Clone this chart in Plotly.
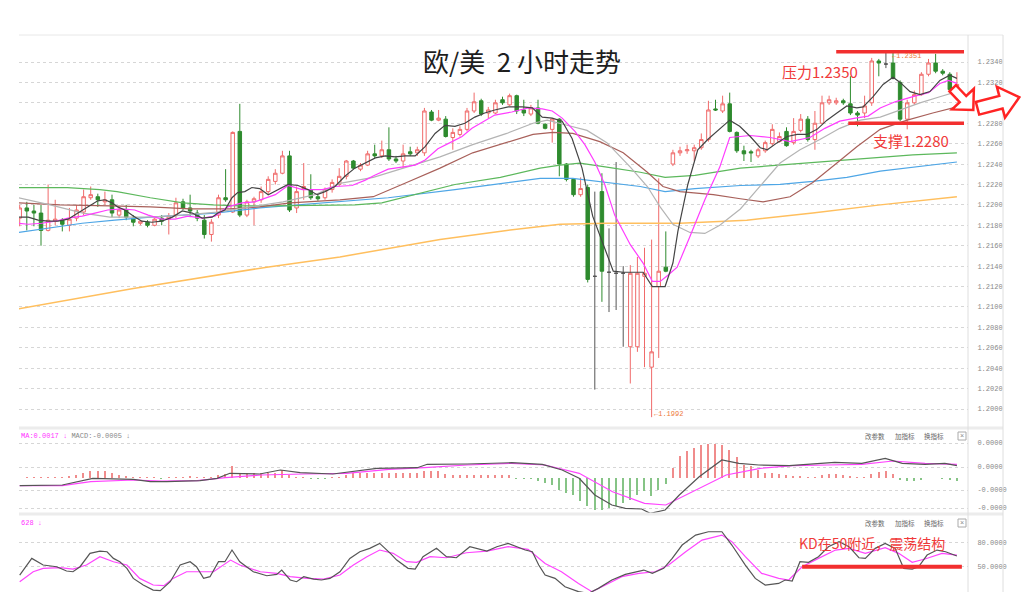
import math
import plotly.graph_objects as go

# ---------------- data ----------------
opens = [1.2187,1.2197,1.2194,1.2192,1.2175,1.2184,1.2185,1.2180,1.2187,1.2193,
         1.2207,1.2208,1.2203,1.2205,1.2190,1.2195,1.2187,1.2182,1.2183,1.2180,
         1.2187,1.2186,1.2190,1.2203,1.2197,1.2192,1.2185,1.2171,1.2190,1.2207,
         1.2193,1.2272,1.2190,1.2203,1.2205,1.2213,1.2223,1.2231,1.2248,1.2197,
         1.2216,1.2215,1.2208,1.2207,1.2215,1.2220,1.2228,1.2243,1.2235,1.2239,
         1.2250,1.2248,1.2254,1.2245,1.2243,1.2252,1.2251,1.2251,1.2291,1.2283,
         1.2284,1.2266,1.2269,1.2274,1.2292,1.2302,1.2290,1.2290,1.2303,1.2298,
         1.2307,1.2293,1.2289,1.2295,1.2279,1.2274,1.2284,1.2240,1.2225,1.2210,
         1.2217,1.2130,1.2213,1.2134,1.2133,1.2133,1.2061,1.2061,1.2130,1.2041,
         1.2120,1.2139,1.2240,1.2251,1.2253,1.2253,1.2256,1.2264,1.2294,1.2292,
         1.2299,1.2271,1.2253,1.2252,1.2248,1.2253,1.2260,1.2262,1.2272,1.2261,
         1.2273,1.2284,1.2264,1.2280,1.2300,1.2300,1.2302,1.2299,1.2290,1.2290,
         1.2300,1.2341,1.2338,1.2339,1.2320,1.2284,1.2300,1.2308,1.2328,1.2339,
         1.2331,1.2328,1.2314]
highs = [1.2200,1.2203,1.2200,1.2200,1.2220,1.2205,1.2187,1.2197,1.2200,1.2215,
         1.2218,1.2211,1.2213,1.2210,1.2198,1.2200,1.2190,1.2185,1.2185,1.2187,
         1.2190,1.2192,1.2207,1.2206,1.2210,1.2195,1.2190,1.2186,1.2210,1.2235,
         1.2272,1.2299,1.2205,1.2208,1.2218,1.2228,1.2235,1.2253,1.2253,1.2218,
         1.2241,1.2230,1.2210,1.2217,1.2225,1.2236,1.2244,1.2244,1.2241,1.2253,
         1.2259,1.2263,1.2276,1.2248,1.2259,1.2257,1.2257,1.2295,1.2293,1.2293,
         1.2287,1.2275,1.2277,1.2295,1.2310,1.2304,1.2296,1.2303,1.2306,1.2309,
         1.2308,1.2303,1.2298,1.2303,1.2280,1.2285,1.2285,1.2241,1.2226,1.2227,
         1.2220,1.2213,1.2231,1.2177,1.2242,1.2140,1.2141,1.2149,1.2158,1.2166,
         1.2226,1.2174,1.2254,1.2257,1.2259,1.2259,1.2270,1.2302,1.2303,1.2307,
         1.2310,1.2272,1.2258,1.2254,1.2256,1.2263,1.2279,1.2271,1.2276,1.2285,
         1.2289,1.2287,1.2292,1.2307,1.2307,1.2305,1.2304,1.2326,1.2292,1.2307,
         1.2344,1.2343,1.2351,1.2349,1.2322,1.2303,1.2312,1.2330,1.2343,1.2348,
         1.2333,1.2330,1.2330]
lows = [1.2179,1.2175,1.2179,1.2160,1.2174,1.2180,1.2174,1.2174,1.2184,1.2190,
        1.2205,1.2198,1.2200,1.2188,1.2187,1.2185,1.2179,1.2180,1.2178,1.2179,
        1.2180,1.2171,1.2187,1.2195,1.2188,1.2184,1.2167,1.2164,1.2187,1.2203,
        1.2192,1.2188,1.2188,1.2180,1.2202,1.2210,1.2220,1.2230,1.2193,1.2192,
        1.2205,1.2205,1.2204,1.2205,1.2212,1.2218,1.2225,1.2235,1.2233,1.2238,
        1.2246,1.2246,1.2243,1.2241,1.2236,1.2248,1.2248,1.2248,1.2282,1.2282,
        1.2266,1.2254,1.2267,1.2272,1.2290,1.2287,1.2285,1.2289,1.2298,1.2297,
        1.2289,1.2287,1.2287,1.2279,1.2274,1.2261,1.2228,1.2223,1.2208,1.2208,
        1.2124,1.2019,1.2105,1.2095,1.2097,1.2061,1.2025,1.2056,1.2041,1.1992,
        1.2050,1.2134,1.2238,1.2248,1.2250,1.2243,1.2254,1.2262,1.2292,1.2290,
        1.2271,1.2251,1.2243,1.2242,1.2246,1.2251,1.2258,1.2261,1.2257,1.2259,
        1.2271,1.2262,1.2254,1.2279,1.2298,1.2298,1.2298,1.2288,1.2277,1.2285,
        1.2297,1.2326,1.2334,1.2323,1.2282,1.2274,1.2298,1.2307,1.2326,1.2329,
        1.2327,1.2312,1.2308]
closes = [1.2197,1.2194,1.2192,1.2175,1.2185,1.2186,1.2181,1.2186,1.2195,1.2208,
          1.2210,1.2205,1.2205,1.2192,1.2195,1.2188,1.2183,1.2184,1.2180,1.2186,
          1.2184,1.2189,1.2202,1.2197,1.2194,1.2187,1.2171,1.2183,1.2207,1.2205,
          1.2271,1.2190,1.2203,1.2206,1.2213,1.2225,1.2231,1.2248,1.2195,1.2213,
          1.2218,1.2207,1.2206,1.2215,1.2222,1.2228,1.2243,1.2236,1.2239,1.2250,
          1.2248,1.2254,1.2245,1.2243,1.2250,1.2250,1.2254,1.2292,1.2283,1.2285,
          1.2267,1.2271,1.2274,1.2292,1.2301,1.2289,1.2293,1.2300,1.2300,1.2307,
          1.2292,1.2290,1.2295,1.2280,1.2275,1.2284,1.2240,1.2225,1.2210,1.2216,
          1.2127,1.2130,1.2135,1.2134,1.2133,1.2133,1.2133,1.2133,1.2133,1.2056,
          1.2135,1.2135,1.2251,1.2253,1.2254,1.2256,1.2264,1.2293,1.2293,1.2299,
          1.2272,1.2253,1.2250,1.2251,1.2254,1.2261,1.2274,1.2267,1.2258,1.2272,
          1.2284,1.2264,1.2280,1.2300,1.2303,1.2302,1.2300,1.2290,1.2288,1.2297,
          1.2341,1.2339,1.2338,1.2324,1.2284,1.2300,1.2308,1.2328,1.2339,1.2331,
          1.2329,1.2313,1.2318]

ma5_idx = [-0.2,1.2,2.6,4.0,5.4,6.8,8.2,9.6,11.0,12.0,13.0,13.8,14.8,16.0,17.2,18.6,20.0,21.5,22.9,24.3,
           25.7,27.1,27.9,28.9,29.9,30.7,31.7,32.7,33.8,35.0,36.4,37.8,39.2,40.6,41.9,43.0,44.4,45.8,47.2,48.6,
           50.1,51.5,52.9,54.3,55.7,57.1,58.5,59.9,61.3,62.7,64.1,65.5,66.9,68.8,70.8,72.2,73.6,75.0,76.4,77.8,
           79.2,80.7,81.9,82.7,83.6,85.0,87.8,89.1,90.9,92.0,92.7,94.1,95.5,96.9,100.0,101.4,102.9,104.3,105.3,106.7,
           108.1,109.5,110.9,112.3,113.7,115.1,116.5,117.9,118.8,120.2,121.6,123.0,124.0,125.4,126.8,128.2,129.6,131.0,132.0]
ma5_val = [1.2188,1.2188,1.2185,1.2184,1.2184,1.2186,1.2192,1.2198,1.2204,1.2205,
           1.2202,1.2198,1.2195,1.2189,1.2184,1.2183,1.2184,1.2188,1.2194,1.2192,
           1.2187,1.2188,1.2192,1.2195,1.2207,1.2212,1.2213,1.2217,1.2216,1.2210,
           1.2215,1.2220,1.2219,1.2215,1.2210,1.2213,1.2218,1.2228,1.2236,1.2241,
           1.2246,1.2248,1.2247,1.2248,1.2248,1.2257,1.2270,1.2278,1.2277,1.2280,
           1.2286,1.2290,1.2293,1.2296,1.2296,1.2295,1.2286,1.2285,1.2282,1.2265,
           1.2236,1.2189,1.2167,1.2153,1.2135,1.2134,1.2134,1.2120,1.2120,1.2143,
           1.2174,1.2220,1.2254,1.2264,1.2283,1.2277,1.2267,1.2256,1.2254,1.2261,
           1.2267,1.2269,1.2269,1.2274,1.2283,1.2290,1.2297,1.2295,1.2296,1.2306,
           1.2318,1.2325,1.2320,1.2311,1.2308,1.2311,1.2322,1.2327,1.2324]
ma10_idx = [-0.2,1.2,3.1,5.0,6.8,8.8,10.6,12.4,14.4,16.2,18.1,20.0,21.9,23.7,25.7,27.5,29.3,31.3,33.1,36.0,
            37.8,39.8,42.6,44.4,46.8,48.6,50.0,51.9,53.8,55.7,57.1,58.9,60.9,62.3,63.7,65.5,66.9,69.3,71.6,73.6,
            75.0,76.4,78.2,79.6,81.0,82.4,83.8,86.0,87.8,89.1,90.2,91.3,92.6,94.4,96.5,98.6,100.0,102.9,105.7,108.5,
            111.3,113.4,115.5,117.7,119.5,121.2,123.3,125.8,128.0,129.6,130.8,132.0]
ma10_val = [1.2182,1.2181,1.2182,1.2184,1.2187,1.2189,1.2192,1.2195,1.2196,1.2195,
            1.2190,1.2186,1.2186,1.2189,1.2187,1.2189,1.2198,1.2202,1.2203,1.2210,
            1.2219,1.2215,1.2215,1.2218,1.2219,1.2224,1.2229,1.2235,1.2237,1.2239,
            1.2244,1.2255,1.2262,1.2267,1.2275,1.2282,1.2288,1.2291,1.2295,1.2294,
            1.2292,1.2285,1.2272,1.2259,1.2242,1.2220,1.2190,1.2161,1.2143,1.2125,
            1.2125,1.2131,1.2139,1.2169,1.2205,1.2237,1.2266,1.2268,1.2266,1.2262,
            1.2266,1.2275,1.2282,1.2285,1.2287,1.2295,1.2301,1.2306,1.2310,1.2319,
            1.2322,1.2319]
ma20_idx = [-0.2,4.3,8.9,12.7,18.4,23.0,27.8,32.4,37.1,41.6,45.1,49.8,54.5,59.2,63.8,68.6,72.3,74.3,77.1,79.9,
            82.7,86.0,88.4,90.2,92.0,94.4,96.5,98.6,101.5,104.3,107.1,109.9,112.7,115.5,118.4,121.2,124.0,126.8,129.6,132.0]
ma20_val = [1.2207,1.2200,1.2192,1.2188,1.2188,1.2190,1.2193,1.2198,1.2203,1.2210,
            1.2221,1.2227,1.2237,1.2247,1.2259,1.2270,1.2280,1.2283,1.2278,1.2273,
            1.2261,1.2237,1.2218,1.2198,1.2181,1.2173,1.2172,1.2180,1.2196,1.2218,
            1.2241,1.2254,1.2264,1.2275,1.2283,1.2286,1.2293,1.2300,1.2306,1.2311]
ma60_idx = [-0.2,5.7,12.7,18.4,24.0,29.6,33.8,38.1,45.1,49.8,54.5,59.2,63.8,68.6,72.3,75.1,77.9,81.7,85.0,88.4,
            90.6,93.0,97.7,101.5,104.7,108.5,111.7,115.1,117.9,121.2,125.0,128.6,132.0]
ma60_val = [1.2202,1.2200,1.2199,1.2198,1.2196,1.2196,1.2198,1.2202,1.2205,1.2208,
            1.2222,1.2236,1.2251,1.2261,1.2269,1.2271,1.2270,1.2262,1.2251,1.2232,
            1.2218,1.2213,1.2210,1.2206,1.2203,1.2208,1.2222,1.2241,1.2257,1.2274,
            1.2283,1.2290,1.2296]
ma_green_idx = [-0.2,6.7,11.3,13.7,18.4,23.0,27.2,31.0,35.3,42.6,47.2,51.0,56.7,61.3,67.7,73.3,76.1,78.9,82.7,87.4,
                90.9,95.1,101.5,107.1,111.7,116.5,121.2,125.8,132.0]
ma_green_val = [1.2217,1.2217,1.2215,1.2213,1.2207,1.2202,1.2200,1.2199,1.2199,1.2200,
                1.2200,1.2202,1.2212,1.2220,1.2227,1.2236,1.2239,1.2241,1.2237,1.2232,
                1.2227,1.2229,1.2236,1.2239,1.2242,1.2244,1.2247,1.2249,1.2251]
ma_blue_idx = [-0.2,4.0,8.8,13.4,18.4,23.0,27.5,33.8,42.6,51.9,61.3,67.7,73.3,77.9,82.7,87.4,90.9,95.1,101.5,107.1,
               111.7,116.5,121.2,125.8,132.0]
ma_blue_val = [1.2173,1.2177,1.2182,1.2185,1.2188,1.2190,1.2192,1.2197,1.2202,1.2207,
               1.2215,1.2221,1.2226,1.2226,1.2222,1.2218,1.2213,1.2216,1.2219,1.2220,
               1.2223,1.2227,1.2233,1.2237,1.2242]
ma_orange_idx = [-0.2,16.0,34.8,45.1,59.2,68.6,76.1,82.7,93.0,102.4,111.7,121.2,132.0]
ma_orange_val = [1.2098,1.2118,1.2139,1.2149,1.2166,1.2175,1.2181,1.2182,1.2182,1.2185,1.2192,1.2200,1.2208]

# MACD (values in units of 1e-6)
macd_hist_e6 = [0,0.5,0.7,0.5,0.5,0.7,1,1.7,3.3,5, 6.7,6.7,6.7,5,3.3,1.7,1,0.5,0.3,0.3,
                -0.3,0.3,0.5,1,1.3,1,0.7,1,3.3,4, 11.7,5,5,5,5,5,5,8.3,3.3,1,
                0.7,-0.3,-0.5,-0.3,0.5,1,3.3,5,5,5, 5,5,5,5,5,5,5,6.7,7.3,6.7,
                4,3.3,3.3,3.3,3.3,3.3,3.3,3.3,3.3,3.3, -0.7,-1,-1,-3.3,-5,-6.7,-11.7,-15,-17.3,-23.3,
                -28.3,-31.7,-31.7,-30,-28.3,-25,-21.7,-16.7,-13.3,-18.3, -11.7,-6,10,21.7,26.7,30,32.7,34,34,33.3,
                28.3,20.7,13.3,11.7,8.3,5,5,4,2.7,1.7, 1.7,0.5,0.3,3.3,4,4,3.3,1.7,0.3,0.3,
                4,6,6.7,4,-1.7,-2.7,-3.3,-1.7,0,0, -0.7,-2.3,-3.3]
dif_idx = [0,6,10.3,16,18.4,20.7,25.4,27.8,29.6,33.8,36.7,39.5,44.1,46.5,50.3,56,57.4,63,69.3,73.6,76.4,78.8,
           81,83.4,85.3,87.6,88.8,90.9,92.9,95.7,98.9,101.3,104.1,108.4,111.6,114.8,118.6,121.9,124.3,127.5,130.3,132]
dif_e6 = [-7.7,-7,-0.3,-1.3,-3.7,-3.7,-2.7,-0.3,4.7,4,8,5.3,4,6.3,9.7,10.3,13.7,14,15.3,13.7,8,-0.3,
          -17,-27,-30.3,-31,-35.3,-32,-17,1.3,18,14.7,13,12.3,13.7,15.7,14.7,19.7,14.7,13.7,14.7,12.3]
dea_idx = [0,6,10,16,20,25,29,34,40,46,52,57,63,69.3,74,78.8,83.5,88,91,94.8,99.5,104.3,108.9,113.7,118.6,123,127.5,132]
dea_e6 = [-7.7,-7.7,-3.7,-2,-3,-2.7,0.3,3,4,4.7,8.7,10.3,13,14.7,13,4.7,-13.7,-25.3,-27,-13.7,3,9.7,12.3,13,13.7,17,14.7,13.7]

# KD
k_idx = [0,1.7,3.3,5.2,6.6,7.5,8.5,9.9,11.3,12.3,13.2,14.1,15.1,16,17.4,18.8,19.8,21.2,22.6,24,
         24.9,25.9,26.8,28,28.9,29.9,31,32.9,34.8,36.2,36.9,38.1,39,40,41.4,42.5,43.7,45.1,46.5,47.9,
         49.3,50.7,52.2,53.1,54.7,55.7,56.8,58.7,60.1,61.5,63.4,65.8,67.2,68.8,71.2,72.2,73.1,74,75.4,76.8,
         78.7,80.1,81.5,83.4,85.3,87.2,87.9,89.1,90.7,91.9,93.3,95.2,97,98.9,100.3,102.2,103.6,105,106.9,107.8,
         108.8,109.9,111.1,112.5,113.9,115.4,116.8,118.2,119.1,120.5,121.9,123.3,124.5,125.7,126.6,127.8,129.2,130.4,132]
k_val = [39.7,60.3,52.1,50,44.7,43.8,50,66.5,69.3,68.5,60.3,56.2,48,35.6,27.4,21.2,20.4,31.5,52.1,56.2,
         50,35.6,37.7,56.2,56.2,70.6,56.2,43.8,38.9,40.6,45.9,33.6,31.5,37.7,34.8,33.6,35.6,43.8,60.3,68.5,
         72.7,78.8,66.5,58.2,48,47.1,62.4,72.7,62.4,61.1,74.7,69.3,74.7,78.8,70.6,68.5,52.1,39.7,35.6,25.3,
         19.2,17.1,23.3,33.6,40.6,44.7,45.9,41.8,48,60.3,76.8,89.1,93.2,93.2,76.8,52.1,35.6,27.4,29.4,33.6,
         32.3,56.2,55.4,62.4,74.7,80.9,74.7,61.1,60.3,72.7,78.8,72.7,48,47.1,50,64.4,70.6,68.5,63.2]
d_idx = [0,1.9,3.3,5.7,7.5,9.4,11.3,13.2,15.1,16.9,18.8,20.3,21.6,23.5,25.4,27.3,29.7,31,33.9,36.2,
         38.1,40.5,42.8,45.1,47,48.9,50.7,52.6,54.5,55.9,57.8,60.1,62.9,65.8,68.8,71.6,74,76.3,78.7,80.6,
         82.5,84.8,87.2,89.5,91.4,93.8,96.1,98.9,100.3,102.2,104.5,106.9,108.3,110.2,112.5,114.9,116.8,119.1,121.9,123.8,
         125.7,127.5,129.9,132]
d_val = [31.5,43.8,48,48.8,47.1,52.1,62.4,56.2,52.1,35.6,27.4,26.6,35.6,43.8,43.8,43.8,58.2,52.1,43.8,41.8,
         37.7,35.6,34.8,39.7,52.1,62.4,70.6,66.5,56.2,55.4,62.4,61.1,67.3,69.3,74.7,71.4,54.1,43.8,29.4,19.2,
         27.4,37.7,41.8,43.8,52.1,68.5,82.9,89.1,80.9,62.4,41.8,35.6,33.6,50,60.3,70.6,72.7,66.5,73.5,66.5,
         55.4,59.5,66.5,64.4]

price_ticks = [1.2000,1.2020,1.2040,1.2060,1.2080,1.2100,1.2120,1.2140,1.2160,1.2180,
               1.2200,1.2220,1.2240,1.2260,1.2280,1.2300,1.2320,1.2340]
macd_ticks_e6 = [35, 11, -12, -30]
kd_ticks = [80, 50, 20]

resistance = 1.2350
support = 1.2280
kd_level = 50
high_mark = 1.2351
low_mark = 1.1992

title_text = "欧/美  2 小时走势"
# ---------------- layout helpers ----------------
W, H = 1024, 592
ML, MR, MT, MB = 19, 56, 35, 0
PW, PH = W - ML - MR, H - MT - MB


def px(x):
    return (x - ML) / PW


def py(y):
    return (H - MB - y) / PH


RED = "#f03a3a"
UPC = "#f06a6a"
DNC = "#2e8b2e"
MONO = "Liberation Mono, DejaVu Sans Mono, monospace"
CJK = "Noto Sans CJK SC, sans-serif"

n = len(opens)
idx = list(range(n))
flat = [i for i in idx if opens[i] == closes[i]]
mov = [i for i in idx if opens[i] != closes[i]]

fig = go.Figure()


def pick(arr, ids):
    return [arr[i] for i in ids]


fig.add_trace(go.Candlestick(
    x=mov, open=pick(opens, mov), high=pick(highs, mov), low=pick(lows, mov), close=pick(closes, mov),
    increasing=dict(line=dict(color=UPC, width=1), fillcolor="white"),
    decreasing=dict(line=dict(color=DNC, width=1), fillcolor=DNC),
    xaxis="x", yaxis="y", hoverinfo="skip"))
fig.add_trace(go.Candlestick(
    x=flat, open=pick(opens, flat), high=pick(highs, flat), low=pick(lows, flat), close=pick(closes, flat),
    increasing=dict(line=dict(color="#555", width=1), fillcolor="#555"),
    decreasing=dict(line=dict(color="#555", width=1), fillcolor="#555"),
    xaxis="x", yaxis="y", hoverinfo="skip"))

ma_specs = [
    (ma_orange_idx, ma_orange_val, "#ffbf5e", 1.5),
    (ma_blue_idx, ma_blue_val, "#4ea6e6", 1.2),
    (ma_green_idx, ma_green_val, "#5cb85c", 1.2),
    (ma60_idx, ma60_val, "#a8605a", 1.2),
    (ma20_idx, ma20_val, "#b4b4b4", 1.2),
    (ma10_idx, ma10_val, "#ff3cff", 1.2),
    (ma5_idx, ma5_val, "#444444", 1.2),
]
for xs, ys, col, w in ma_specs:
    fig.add_trace(go.Scatter(x=xs, y=ys, mode="lines", line=dict(color=col, width=w),
                             xaxis="x", yaxis="y", hoverinfo="skip"))

# MACD
E6 = 1e-6
fig.add_trace(go.Bar(x=idx, y=[v * E6 for v in macd_hist_e6], width=0.22,
                     marker=dict(color=["#f08c8c" if v >= 0 else "#86c486" for v in macd_hist_e6], line=dict(width=0)),
                     xaxis="x2", yaxis="y2", hoverinfo="skip"))
fig.add_trace(go.Scatter(x=dea_idx, y=[v * E6 for v in dea_e6], mode="lines",
                         line=dict(color="#ff44ff", width=1.2), xaxis="x2", yaxis="y2", hoverinfo="skip"))
fig.add_trace(go.Scatter(x=dif_idx, y=[v * E6 for v in dif_e6], mode="lines",
                         line=dict(color="#555555", width=1.2), xaxis="x2", yaxis="y2", hoverinfo="skip"))

# KD
fig.add_trace(go.Scatter(x=d_idx, y=d_val, mode="lines", line=dict(color="#ff44ff", width=1.2),
                         xaxis="x3", yaxis="y3", hoverinfo="skip"))
fig.add_trace(go.Scatter(x=k_idx, y=k_val, mode="lines", line=dict(color="#555555", width=1.2),
                         xaxis="x3", yaxis="y3", hoverinfo="skip"))

XR = [-0.1, -0.1 + PW / 7.1]
xcommon = dict(range=XR, showticklabels=False, showgrid=False, zeroline=False, showline=False,
               ticks="", fixedrange=True)
ycommon = dict(side="right", showgrid=True, gridcolor="#d6d6d6", griddash="dot", gridwidth=1,
               zeroline=False, showline=False, ticks="outside", ticklen=7, tickcolor="rgba(0,0,0,0)",
               tickfont=dict(family=MONO, size=7, color="#888"), fixedrange=True)

fig.update_layout(
    width=W, height=H, margin=dict(l=ML, r=MR, t=MT, b=MB, pad=0),
    paper_bgcolor="white", plot_bgcolor="white", showlegend=False, hovermode=False,
    xaxis=dict(domain=[0, 1], anchor="y", rangeslider=dict(visible=False), **xcommon),
    xaxis2=dict(domain=[0, 1], anchor="y2", matches="x", **xcommon),
    xaxis3=dict(domain=[0, 1], anchor="y3", matches="x", **xcommon),
    yaxis=dict(domain=[py(428), 1], anchor="x",
               range=[1.2000 - (428 - 409) / 10206, 1.2340 + (62 - 35) / 10206],
               tickvals=price_ticks, ticktext=[f"{v:.4f}" for v in price_ticks], **ycommon),
    yaxis2=dict(domain=[py(514), py(428)], anchor="x2", range=[-36 * E6, 50 * E6],
                tickvals=[v * E6 for v in macd_ticks_e6],
                ticktext=[f"{v * E6:.4f}" for v in macd_ticks_e6], **ycommon),
    yaxis3=dict(domain=[0, py(514)], anchor="x3", range=[18.8, 115.1],
                tickvals=kd_ticks, ticktext=[f"{v:.4f}" for v in kd_ticks], **ycommon),
    bargap=0,
)

shapes = []
# frame lines
shapes.append(dict(type="line", xref="paper", yref="paper", x0=0, x1=px(1003), y0=1, y1=1,
                   line=dict(color="#e8e8e8", width=1)))
for yy in (428, 514):
    shapes.append(dict(type="line", xref="paper", yref="paper", x0=0, x1=px(1003), y0=py(yy), y1=py(yy),
                       line=dict(color="#ececec", width=3)))
for xx in (968, 1003):
    shapes.append(dict(type="line", xref="paper", yref="paper", x0=px(xx), x1=px(xx), y0=0, y1=1,
                       line=dict(color="#dedede", width=1)))
# resistance / support / KD lines
shapes.append(dict(type="line", xref="x", yref="y", x0=115.0, x1=133.0, y0=resistance, y1=resistance,
                   line=dict(color="#f22f2f", width=3.5)))
shapes.append(dict(type="line", xref="x", yref="y", x0=116.7, x1=133.0, y0=support, y1=support,
                   line=dict(color="#f22f2f", width=3.5)))
shapes.append(dict(type="line", xref="x3", yref="y3", x0=110.2, x1=132.7, y0=kd_level, y1=kd_level,
                   line=dict(color="#f22f2f", width=4)))


def arrow_path(tail, tip, shaft_hw, head_hw, head_len):
    (x0, y0), (x1, y1) = tail, tip
    dx, dy = x1 - x0, y1 - y0
    L = math.hypot(dx, dy)
    ux, uy = dx / L, dy / L
    nx, ny = -uy, ux
    bx, by = x1 - ux * head_len, y1 - uy * head_len
    pts = [(x0 + nx * shaft_hw, y0 + ny * shaft_hw), (bx + nx * shaft_hw, by + ny * shaft_hw),
           (bx + nx * head_hw, by + ny * head_hw), (x1, y1),
           (bx - nx * head_hw, by - ny * head_hw), (bx - nx * shaft_hw, by - ny * shaft_hw),
           (x0 - nx * shaft_hw, y0 - ny * shaft_hw)]
    return "M " + " L ".join(f"{px(a):.5f},{py(b):.5f}" for a, b in pts) + " Z"


for tail, tip, shw, hhw, hl in [((952.7, 88.3), (973.3, 110.0), 4.5, 15, 15),
                                ((977.5, 108.3), (1019.3, 97.3), 6.5, 16, 19)]:
    shapes.append(dict(type="path", xref="paper", yref="paper", path=arrow_path(tail, tip, shw, hhw, hl),
                       line=dict(color="#ff2424", width=2.5), fillcolor="white", layer="above"))

# close boxes
for yc in (436, 523):
    shapes.append(dict(type="rect", xref="paper", yref="paper", x0=px(958), x1=px(966),
                       y0=py(yc + 4), y1=py(yc - 4), line=dict(color="#aaa", width=1), fillcolor="white"))
fig.update_layout(shapes=shapes)

ann = []
ann.append(dict(xref="paper", yref="paper", x=px(522), y=py(60), text=title_text, showarrow=False,
                xanchor="center", yanchor="middle", font=dict(family=CJK, size=26, color="#1e1e1e")))
ann.append(dict(xref="paper", yref="paper", x=px(820), y=py(72), text=f"压力{resistance:.4f}", showarrow=False,
                xanchor="center", yanchor="middle", font=dict(family=CJK, size=15, color=RED)))
ann.append(dict(xref="paper", yref="paper", x=px(911), y=py(140), text=f"支撑{support:.4f}", showarrow=False,
                xanchor="center", yanchor="middle", font=dict(family=CJK, size=15, color=RED)))
ann.append(dict(xref="paper", yref="paper", x=px(872), y=py(543), text="KD在50附近，震荡结构", showarrow=False,
                xanchor="center", yanchor="middle", font=dict(family=CJK, size=14, color=RED)))
ann.append(dict(xref="x", yref="y", x=122.6, y=1.2346, text=f"←{high_mark:.4f}", showarrow=False,
                xanchor="left", yanchor="middle", font=dict(family=MONO, size=7, color="#ee7a3c")))
ann.append(dict(xref="x", yref="y", x=89.1, y=1.1995, text=f"←{low_mark:.4f}", showarrow=False,
                xanchor="left", yanchor="middle", font=dict(family=MONO, size=7, color="#ee7a3c")))
ann.append(dict(xref="paper", yref="paper", x=px(19), y=py(436),
                text='<span style="color:#ff33ff">MA:0.0017 ↓</span> <span style="color:#888">MACD:-0.0005 ↓</span>',
                showarrow=False, xanchor="left", yanchor="middle", font=dict(family=MONO, size=7)))
ann.append(dict(xref="paper", yref="paper", x=px(19), y=py(523), text="628 ↓", showarrow=False,
                xanchor="left", yanchor="middle", font=dict(family=MONO, size=7, color="#ff33ff")))
for yc in (436, 523):
    for cx, t in ((875, "改参数"), (905, "加指标"), (934, "换指标")):
        ann.append(dict(xref="paper", yref="paper", x=px(cx), y=py(yc), text=t, showarrow=False,
                        xanchor="center", yanchor="middle", font=dict(family=CJK, size=6.5, color="#666")))
    ann.append(dict(xref="paper", yref="paper", x=px(962), y=py(yc), text="×", showarrow=False,
                    xanchor="center", yanchor="middle", font=dict(family=MONO, size=7, color="#888")))
fig.update_layout(annotations=ann)

# remove the default page margin so the 1024x592 figure fills the window exactly
fig.write_html("out.html", config={"displayModeBar": False},
               post_script="document.body.style.margin='0';document.body.style.overflow='hidden';")
